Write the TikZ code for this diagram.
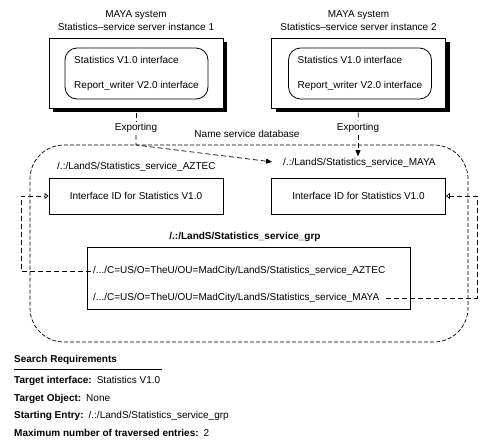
\documentclass[tikz,border=0pt]{standalone}
\usepackage{fontspec}
\setmainfont{Liberation Sans}
\usetikzlibrary{arrows.meta,shadows,positioning}

\tikzset{
	srvbox/.style={draw, line width=1pt, fill=white, minimum width=174pt, minimum height=70pt,
		drop shadow={shadow xshift=4pt, shadow yshift=-4pt, fill=black, opacity=1}},
	ifcbox/.style={draw, line width=0.8pt, rounded corners=12pt, minimum width=143pt, minimum height=51pt, align=left},
	idbox/.style={draw, line width=0.8pt, minimum width=174pt, minimum height=36pt},
	lbl/.style={inner sep=2pt},
	link/.style={line width=0.7pt, dash pattern=on 5pt off 3pt},
	exptip/.style={-{Triangle[length=6pt,width=5pt]}},
	opentip/.style={-{Triangle[open,length=4pt,width=6pt]}}
}

\begin{document}
\begin{tikzpicture}[x=1pt, y=-1pt, font=\fontsize{10}{13}\selectfont]
		\useasboundingbox (0,0) rectangle (491,445);
		% Server instances:
		\node[srvbox] (srvA) at (136, 73){};
		\node[srvbox] (srvB) at (358.5, 73){};
		\node[ifcbox] (ifcA) at (136.5, 73.5){Statistics V1.0 interface\\[12pt]Report\_writer V2.0 interface};
		\node[ifcbox] (ifcB) at (360, 73.5){Statistics V1.0 interface\\[12pt]Report\_writer V2.0 interface};
		\node[align=center, above=3pt of srvA] (ttlA){MAYA system\\Statistics--service server instance 1};
		\node[align=center, above=3pt of srvB] (ttlB){MAYA system\\Statistics--service server instance 2};
		% Name service database:
		\node[draw, line width=0.7pt, dash pattern=on 4pt off 2pt, rounded corners=34pt, minimum width=438pt, minimum height=197pt] (nsdb) at (249, 243.5){};
		\node[lbl] (nsdbLbl) at (247, 134){Name service database};
		\node[lbl, anchor=west] (aztecLbl) at (55, 167){/.:/LandS/Statistics\_service\_AZTEC};
		\node[lbl, anchor=west] (mayaLbl) at (281, 163){/.:/LandS/Statistics\_service\_MAYA};
		\node[idbox] (idA) at (136, 196){Interface ID for Statistics V1.0};
		\node[idbox] (idB) at (358.5, 196){Interface ID for Statistics V1.0};
		\node[lbl, font=\fontsize{10}{13}\selectfont\bfseries] (grpLbl) at (245, 237){/.:/LandS/Statistics\_service\_grp};
		\node[draw, line width=0.8pt, minimum width=323pt, minimum height=62pt] (grp) at (248.5, 278){};
		\node[lbl, anchor=west] (entA) at (91, 271){/.../C=US/O=TheU/OU=MadCity/LandS/Statistics\_service\_AZTEC};
		\node[lbl, anchor=west] (entB) at (91, 298){/.../C=US/O=TheU/OU=MadCity/LandS/Statistics\_service\_MAYA};
		% Exporting:
		\node[lbl] (expA) at (136, 128){Exporting};
		\node[lbl] (expB) at (358, 128){Exporting};
		\coordinate (bendA) at (136, 145);
		\draw[link, shorten <=4pt] (srvA.south) -- (expA.north);
		\draw[link, exptip, shorten >=9pt] (expA.south) -- (bendA) -- (mayaLbl.west);
		\draw[link, shorten <=4pt] (srvB.south) -- (expB.north);
		\draw[link, exptip] (expB.south) -- (expB.south |- mayaLbl.north);
		% Group members:
		\coordinate (turnA) at (21, 271);
		\coordinate (turnB) at (477, 298);
		\draw[link, opentip] (entA.west) -- (turnA) |- (idA.west);
		\draw[link, opentip, shorten <=4pt] (entB.east) -- (turnB) |- (idB.east);
		% Search requirements:
		\node[lbl, anchor=west, font=\fontsize{10}{13}\selectfont\bfseries] (srTitle) at (12, 360){Search Requirements};
		\draw[line width=0.8pt] ([xshift=2pt, yshift=-3pt]srTitle.south west) -- ++(148, 0);
		\node[lbl, anchor=west] (srIfc) at (12, 381){\textbf{Target interface:}\enspace Statistics V1.0};
		\node[lbl, anchor=west] (srObj) at (12, 399){\textbf{Target Object:}\enspace None};
		\node[lbl, anchor=west] (srEntry) at (12, 416){\textbf{Starting Entry:}\enspace /.:/LandS/Statistics\_service\_grp};
		\node[lbl, anchor=west] (srMax) at (12, 433){\textbf{Maximum number of traversed entries:}\enspace 2};
	\end{tikzpicture}
\end{document}
